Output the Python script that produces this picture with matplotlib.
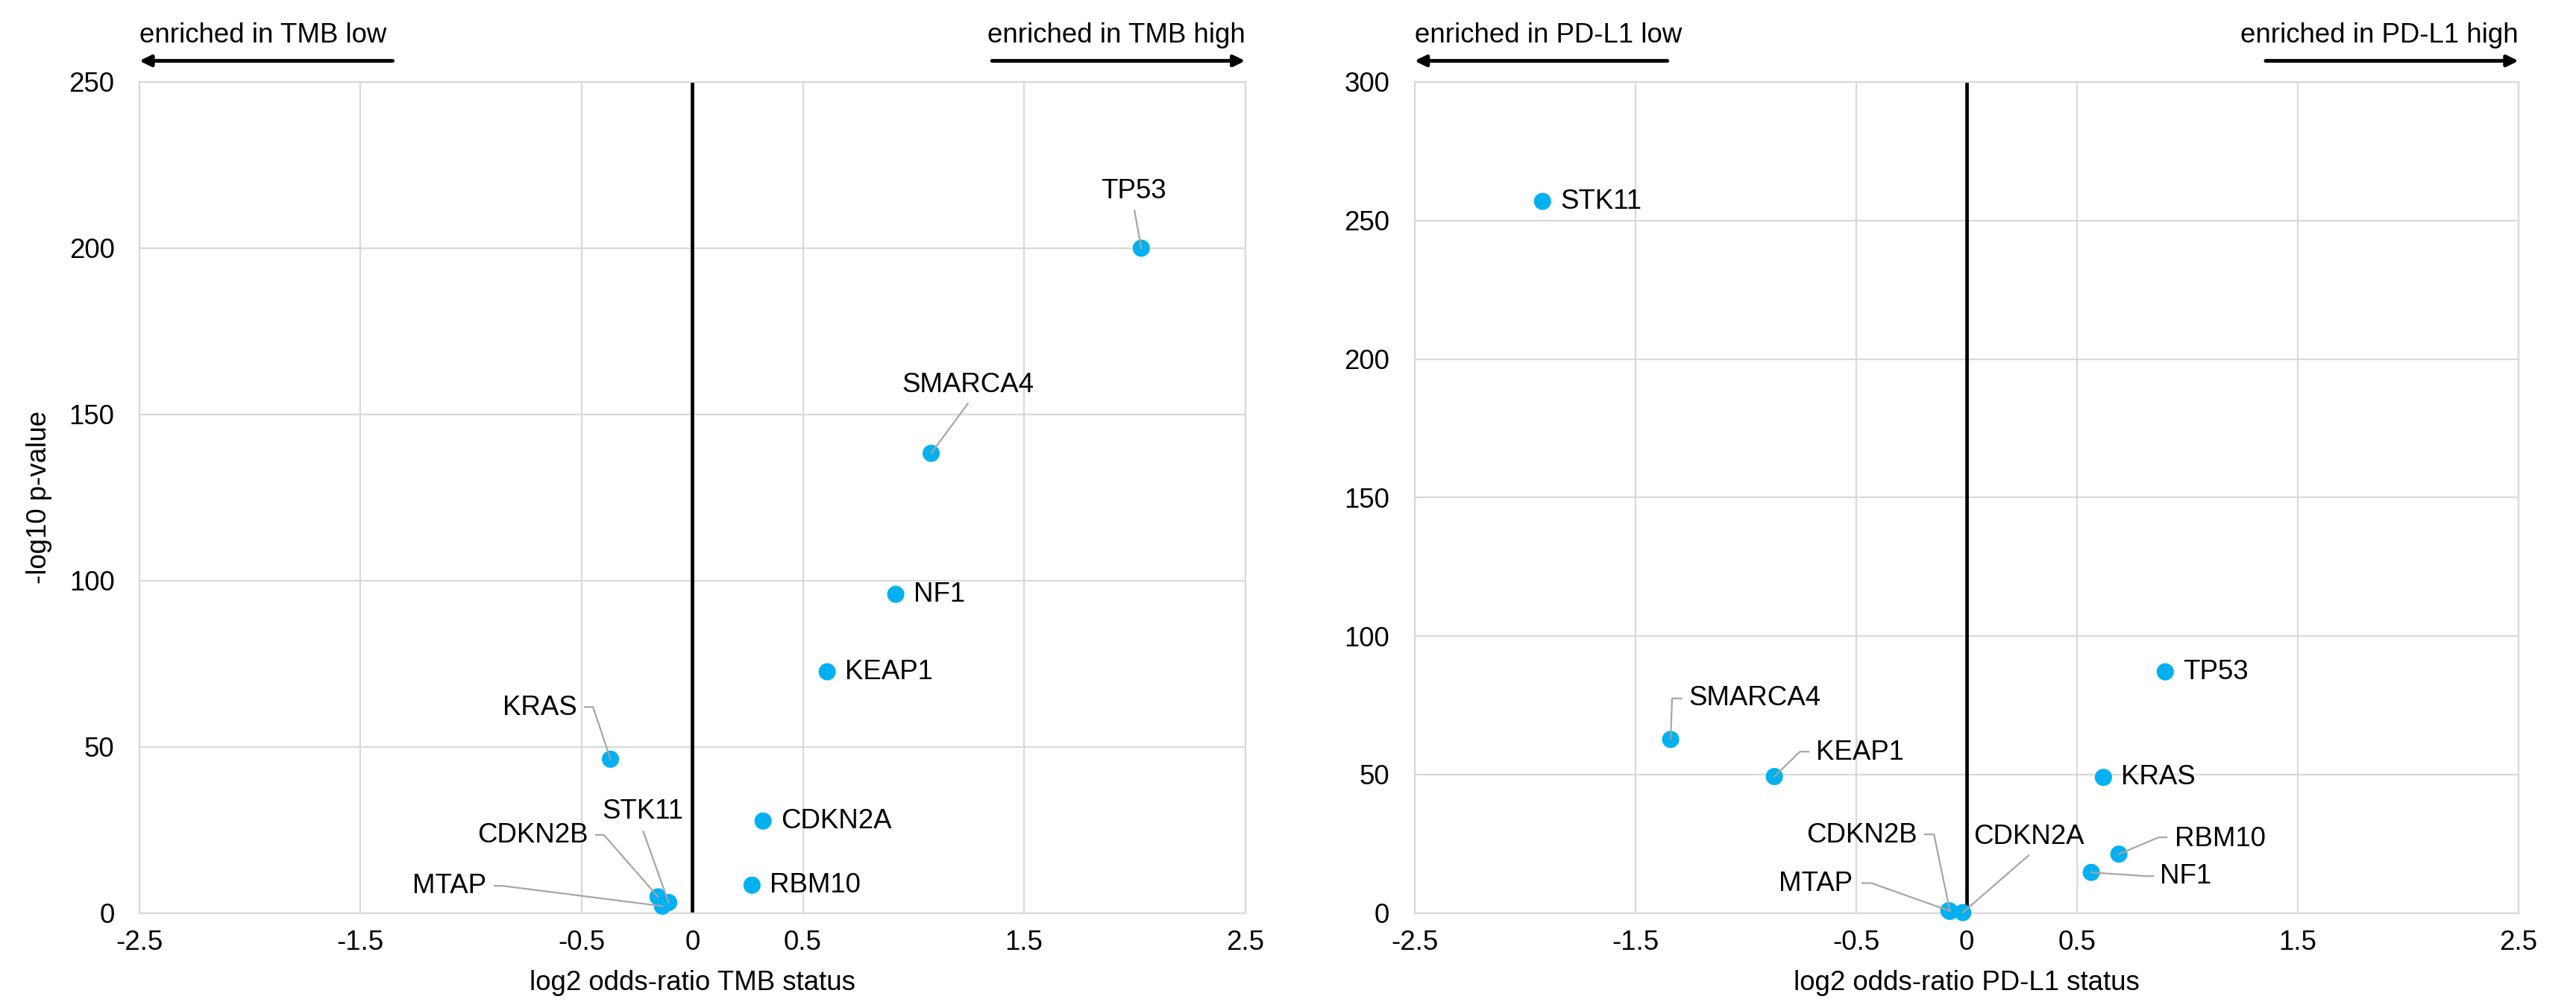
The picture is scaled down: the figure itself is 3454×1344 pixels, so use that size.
import matplotlib
matplotlib.use("Agg")
import matplotlib.pyplot as plt
import matplotlib.transforms as mtransforms

plt.rcParams['font.family'] = ['Liberation Sans', 'DejaVu Sans']

# ---------------- data ----------------
genes_tmb = ["TP53", "SMARCA4", "NF1", "KEAP1", "KRAS", "CDKN2A", "RBM10", "CDKN2B", "STK11", "MTAP"]
x_tmb = [2.03, 1.08, 0.92, 0.61, -0.37, 0.32, 0.27, -0.155, -0.107, -0.135]
y_tmb = [200.0, 138.3, 95.9, 72.6, 46.3, 27.7, 8.4, 4.9, 3.2, 2.1]

genes_pdl1 = ["STK11", "TP53", "SMARCA4", "KEAP1", "KRAS", "RBM10", "NF1", "CDKN2B", "CDKN2A", "MTAP"]
x_pdl1 = [-1.92, 0.90, -1.34, -0.87, 0.62, 0.69, 0.565, -0.075, -0.017, -0.08]
y_pdl1 = [256.9, 87.1, 62.7, 49.3, 49.0, 21.3, 14.7, 0.63, 0.2, 0.9]

x_ticks = [-2.5, -1.5, -0.5, 0, 0.5, 1.5, 2.5]
x_tick_labels = ["-2.5", "-1.5", "-0.5", "0", "0.5", "1.5", "2.5"]
y_ticks_tmb = [0, 50, 100, 150, 200, 250]
y_ticks_pdl1 = [0, 50, 100, 150, 200, 250, 300]

# ---------------- layout (label offsets in points) ----------------
layout_tmb = {
    'TP53': dict(text=(-3.6, 27.4), ha='center', line=[(-3.3, 18.2)]),
    'SMARCA4': dict(text=(17.7, 33.0), ha='center', line=[(17.7, 24.0)]),
    'KRAS': dict(text=(-16.2, 24.6), ha='right', line=[(-12.3, 25.2), (-8.4, 25.2)]),
    'CDKN2B': dict(text=(-33.8, 29.6), ha='right', line=[(-30.0, 29.9), (-26.1, 29.9)]),
    'STK11': dict(text=(-12.6, 43.8), ha='center', line=[(-12.2, 34.2)]),
    'MTAP': dict(text=(-84.9, 9.6), ha='right', line=[(-81.0, 9.8), (-77.1, 9.8)]),
}
layout_pdl1 = {
    'SMARCA4': dict(text=(8.7, 19.8), ha='left', line=[(5.2, 19.8), (0.7, 19.8)]),
    'KEAP1': dict(text=(20.2, 11.4), ha='left', line=[(16.6, 12.0), (12.3, 12.0)]),
    'RBM10': dict(text=(26.8, 7.4), ha='left', line=[(23.0, 8.1), (19.2, 8.1)]),
    'NF1': dict(text=(33.2, -1.8), ha='left', line=[(29.9, -1.8), (26.3, -1.8)]),
    'CDKN2B': dict(text=(-15.75, 36.6), ha='right', line=[(-12.1, 37.2), (-7.7, 37.2)]),
    'CDKN2A': dict(text=(5.3, 36.6), ha='left', line=[(31.8, 27.6)]),
    'MTAP': dict(text=(-46.3, 13.0), ha='right', line=[(-41.8, 13.3), (-37.4, 13.3)]),
}

FS = 13.2
DOT = '#00B0F0'
GRID = '#D9D9D9'
LEAD = '#A6A6A6'

fig = plt.figure(figsize=(17.27, 6.72), dpi=200)
ax1 = fig.add_axes([0.0541, 0.0887, 0.4293, 0.8295])
ax2 = fig.add_axes([0.5491, 0.0887, 0.4286, 0.8295])


def style(ax, yticks, ylim):
    ax.set_xlim(-2.5, 2.5)
    ax.set_ylim(0, ylim)
    ax.set_xticks(x_ticks)
    ax.set_xticklabels(x_tick_labels)
    ax.set_yticks(yticks)
    ax.tick_params(axis='both', length=0, labelsize=FS)
    ax.tick_params(axis='x', pad=8)
    ax.tick_params(axis='y', pad=12)
    ax.grid(True, color=GRID, lw=0.8, zorder=0)
    ax.set_axisbelow(True)
    for s in ax.spines.values():
        s.set_color(GRID)
        s.set_linewidth(0.8)
    ax.axvline(0, color='black', lw=1.7, zorder=2)


def draw(ax, genes, xs, ys, layout):
    ax.scatter(xs, ys, s=69, color=DOT, edgecolors='none', zorder=3, clip_on=False)
    for g, x, y in zip(genes, xs, ys):
        lay = layout.get(g, dict(text=(8.5, 0), ha='left', line=None))
        ax.annotate(g, xy=(x, y), xytext=lay['text'], textcoords='offset points',
                    ha=lay['ha'], va='center', fontsize=FS, zorder=5,
                    annotation_clip=False)
        if lay.get('line'):
            pts = list(lay['line']) + [(0, 0)]
            tr = (mtransforms.Affine2D().scale(1 / 72.) + fig.dpi_scale_trans +
                  mtransforms.ScaledTranslation(x, y, ax.transData))
            ax.plot([p[0] for p in pts], [p[1] for p in pts], transform=tr,
                    color=LEAD, lw=0.8, zorder=4, clip_on=False)


def header(ax, left_txt, right_txt):
    trans = mtransforms.blended_transform_factory(ax.transData, ax.transAxes)
    ax.text(-2.5, 1.0556, left_txt, transform=trans, ha='left', va='center', fontsize=FS)
    ax.text(2.5, 1.0556, right_txt, transform=trans, ha='right', va='center', fontsize=FS)
    ap = dict(arrowstyle='-|>,head_length=0.45,head_width=0.22', lw=1.8, color='black',
              shrinkA=0, shrinkB=0, mutation_scale=10)
    ax.annotate('', xy=(-2.5, 1.0254), xytext=(-1.355, 1.0254), xycoords=trans,
                textcoords=trans, arrowprops=ap, annotation_clip=False)
    ax.annotate('', xy=(2.5, 1.0254), xytext=(1.355, 1.0254), xycoords=trans,
                textcoords=trans, arrowprops=ap, annotation_clip=False)


style(ax1, y_ticks_tmb, 250)
style(ax2, y_ticks_pdl1, 300)
draw(ax1, genes_tmb, x_tmb, y_tmb, layout_tmb)
draw(ax2, genes_pdl1, x_pdl1, y_pdl1, layout_pdl1)
header(ax1, "enriched in TMB low", "enriched in TMB high")
header(ax2, "enriched in PD-L1 low", "enriched in PD-L1 high")

ax1.set_xlabel("log2 odds-ratio TMB status", fontsize=FS, labelpad=7)
ax2.set_xlabel("log2 odds-ratio PD-L1 status", fontsize=FS, labelpad=7)
ax1.set_ylabel("-log10 p-value", fontsize=FS, labelpad=8)

fig.savefig("out.png", dpi=200)
